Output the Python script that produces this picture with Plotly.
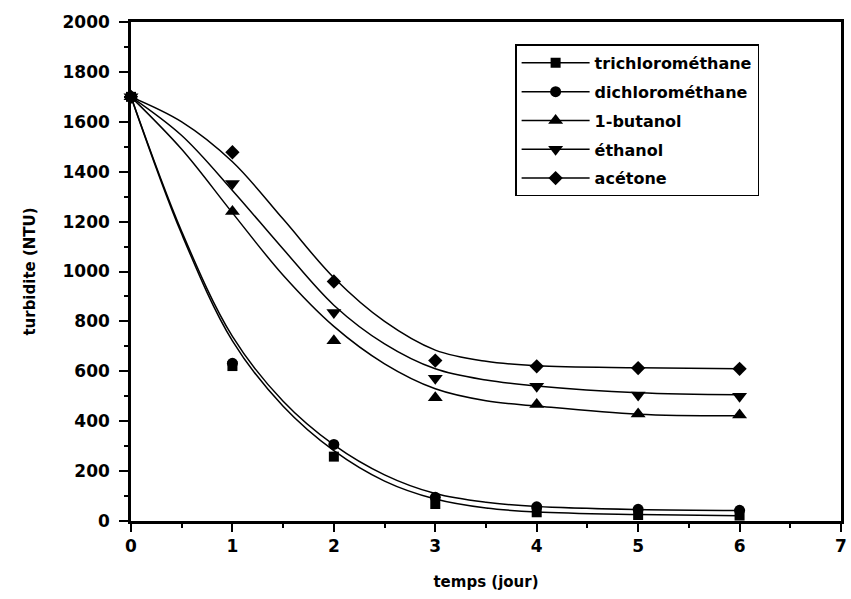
import plotly.graph_objects as go

# Measured turbidity (NTU) versus time (days)
days = [0, 1, 2, 3, 4, 5, 6]
trichloromethane = [1700, 621, 258, 68, 35, 24, 22]
dichloromethane = [1700, 632, 307, 95, 57, 47, 43]
butanol = [1700, 1240, 722, 494, 467, 429, 425]
ethanol = [1700, 1353, 836, 572, 540, 505, 500]
acetone = [1700, 1478, 960, 643, 620, 613, 610]

# Fitted curves, sampled every half day
fit_days = [0, 0.5, 1, 1.5, 2, 2.5, 3, 3.5, 4, 5, 6]
fit_trichloromethane = [1700, 1150, 722, 460, 282, 160, 88, 52, 36, 26, 21]
fit_dichloromethane = [1700, 1160, 740, 480, 305, 185, 110, 75, 58, 46, 42]
fit_butanol = [1700, 1490, 1235, 985, 780, 630, 530, 482, 461, 428, 422]
fit_ethanol = [1700, 1545, 1325, 1090, 865, 710, 610, 565, 541, 514, 506]
fit_acetone = [1700, 1600, 1440, 1210, 975, 800, 685, 640, 622, 614, 610]

series = [
    ("trichlorométhane", trichloromethane, fit_trichloromethane, "square", 10),
    ("dichlorométhane", dichloromethane, fit_dichloromethane, "circle", 11),
    ("1-butanol", butanol, fit_butanol, "triangle-up", 13),
    ("éthanol", ethanol, fit_ethanol, "triangle-down", 13),
    ("acétone", acetone, fit_acetone, "diamond", 11),
]

FONT = "DejaVu Sans"


def separated(xs, ys):
    """Interleave gaps so isolated points keep a line style for the legend."""
    gx, gy = [], []
    for a, b in zip(xs, ys):
        gx += [a, None]
        gy += [b, None]
    return gx, gy


fig = go.Figure()
for name, values, fit, symbol, size in series:
    fig.add_trace(go.Scatter(
        x=fit_days, y=fit, mode="lines", legendgroup=name,
        line=dict(color="black", width=1.5, shape="spline", smoothing=1),
        showlegend=False, hoverinfo="skip",
    ))
    gx, gy = separated(days, values)
    fig.add_trace(go.Scatter(
        x=gx, y=gy, mode="lines+markers", name=name, legendgroup=name,
        line=dict(color="black", width=1.5),
        marker=dict(symbol=symbol, size=size, color="black"),
        connectgaps=False, cliponaxis=False,
    ))

axis_common = dict(
    showline=True, linecolor="black", linewidth=2.5, mirror=True,
    ticks="outside", tickcolor="black", tickwidth=2,
    showgrid=False, zeroline=False,
    tickfont=dict(family=FONT, size=17, color="black", weight="bold"),
)

fig.update_layout(
    width=851, height=599,
    margin=dict(l=131, r=4, t=22, b=78),
    paper_bgcolor="white", plot_bgcolor="white",
    font=dict(family=FONT, color="black"),
    xaxis=dict(
        range=[0, 7], dtick=1, ticklen=8, ticklabelstandoff=0,
        minor=dict(dtick=0.5, ticklen=4, ticks="outside", tickcolor="black", tickwidth=2),
        title=dict(text="temps (jour)", standoff=22,
                   font=dict(family=FONT, size=15, color="black", weight="bold")),
        **axis_common,
    ),
    yaxis=dict(
        range=[0, 2000], dtick=200, ticklen=9, ticklabelstandoff=6,
        minor=dict(dtick=100, ticklen=4, ticks="outside", tickcolor="black", tickwidth=2),
        title=dict(text="turbidite (NTU)", standoff=24,
                   font=dict(family=FONT, size=15, color="black", weight="bold")),
        **axis_common,
    ),
    legend=dict(
        x=0.541, y=0.955, xanchor="left", yanchor="top",
        bgcolor="white", bordercolor="black", borderwidth=1.5,
        font=dict(family=FONT, size=16, color="black", weight="bold"),
        itemwidth=68, traceorder="grouped", tracegroupgap=5,
    ),
)

fig.write_html("out.html")
